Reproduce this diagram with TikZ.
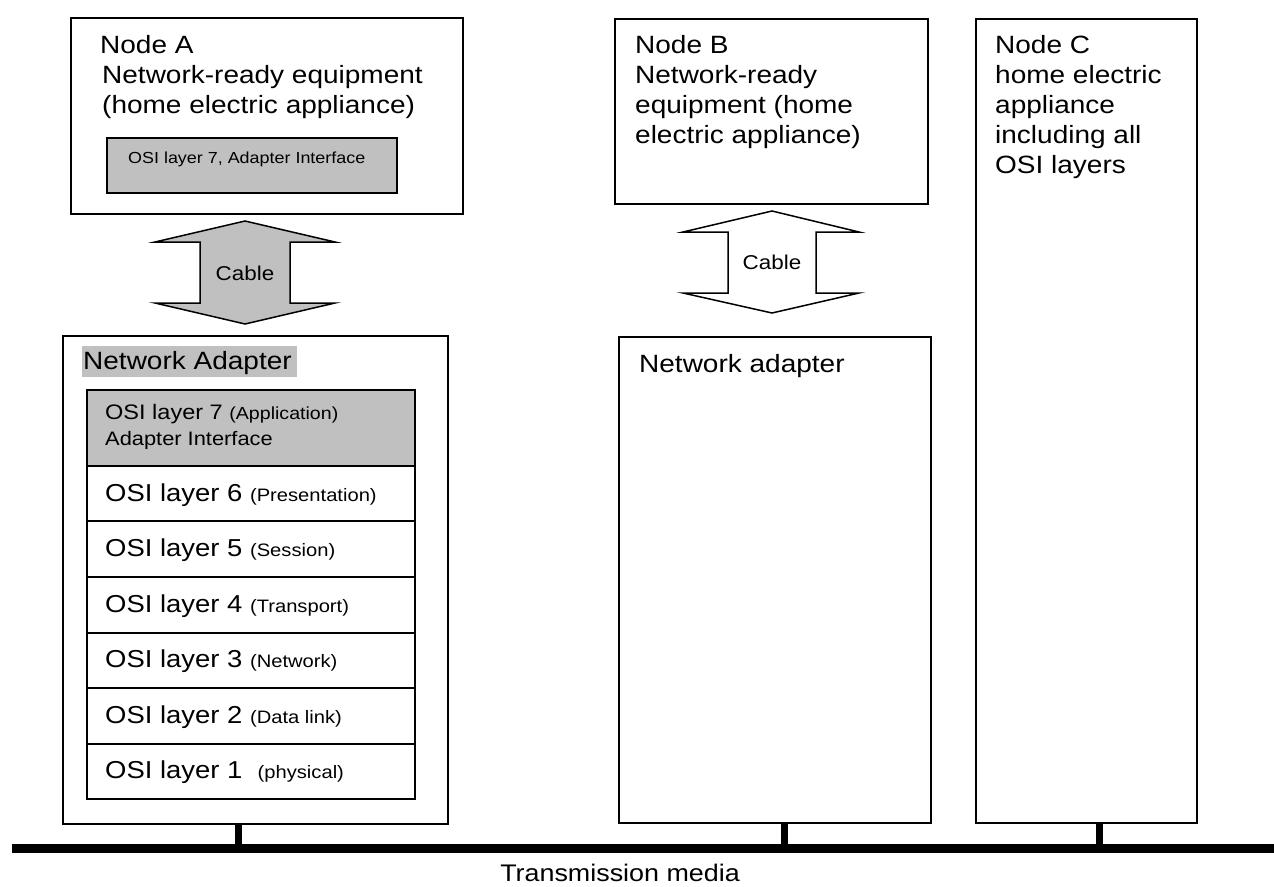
\documentclass[tikz,border=0pt]{standalone}
\usepackage{fontspec}
\setmainfont{Liberation Sans}[FakeStretch=1.12]
\newcommand\fsz[2]{\fontsize{#1}{#2}\selectfont}
\definecolor{lgray}{HTML}{C0C0C0}
\begin{document}
\begin{tikzpicture}[x=1pt,y=-1pt,
  box/.style={draw, line width=1.5pt, anchor=north west, inner sep=0pt},
  rowbox/.style={draw, line width=2pt, anchor=north west, inner sep=0pt, minimum width=328},
  big/.style={font=\fsz{25}{30}, inner sep=0pt, align=left},
  lbl/.style={inner sep=0pt, anchor=base west},
  cable/.style={draw, line width=1.5pt, line join=miter},
  stub/.style={line width=7pt},
  bus/.style={line width=9pt}]
\useasboundingbox (0,0) rectangle (1274,886);

% ---- Node A
\node[box, minimum width=392, minimum height=196] (nodeA) at (70,17) {};
\node[big, anchor=north west] (tA) at (100,35) {Node A\\[0pt]\hspace*{2pt}Network-ready equipment\\[0pt]\hspace*{2pt}(home electric appliance)};
\node[box, fill=lgray, minimum width=290, minimum height=55] (ifA) at (106,137) {};
\node[lbl, font=\fsz{16}{19}] (ifAt) at (128,163) {OSI layer 7, Adapter Interface};

% ---- Cable A
\draw[cable, fill=lgray] (245,221) -- (335,242) -- (290,242) -- (290,303) -- (335,303) -- (245,324) -- (155,303) -- (200,303) -- (200,242) -- (155,242) -- cycle;
\node[font=\fsz{20}{24}, inner sep=0pt] (cabA) at (245,273) {Cable};

% ---- Network Adapter A
\node[box, minimum width=385, minimum height=488] (adA) at (62,335) {};
\node[fill=lgray, anchor=north west, inner sep=0pt, minimum width=215, minimum height=31] (naHl) at (82,346) {};
\node[lbl, font=\fsz{25}{30}] (naT) at (83,369) {Network Adapter};

\node[rowbox, fill=lgray, minimum height=76] (r7) at (86,389) {};
\node[rowbox, minimum height=55] (r6) at (86,465) {};
\node[rowbox, minimum height=56] (r5) at (86,520) {};
\node[rowbox, minimum height=56] (r4) at (86,576) {};
\node[rowbox, minimum height=55] (r3) at (86,632) {};
\node[rowbox, minimum height=56] (r2) at (86,687) {};
\node[rowbox, minimum height=55] (r1) at (86,743) {};

\node[lbl] (t7a) at (105,419) {\fsz{21}{25}OSI layer 7 \fsz{17.5}{21}(Application)};
\node[lbl, font=\fsz{19.5}{23}] (t7b) at (105,445) {Adapter Interface};
\node[lbl] (t6) at (105,501) {\fsz{24.5}{29}OSI layer 6 \fsz{18}{21}(Presentation)};
\node[lbl] (t5) at (105,556) {\fsz{24.5}{29}OSI layer 5 \fsz{18}{21}(Session)};
\node[lbl] (t4) at (105,612) {\fsz{24.5}{29}OSI layer 4 \fsz{18}{21}(Transport)};
\node[lbl] (t3) at (105,667) {\fsz{24.5}{29}OSI layer 3 \fsz{18}{21}(Network)};
\node[lbl] (t2) at (105,723) {\fsz{24.5}{29}OSI layer 2 \fsz{18}{21}(Data link)};
\node[lbl] (t1) at (105,778) {\fsz{24.5}{29}OSI layer 1 \ \fsz{18}{21}(physical)};

% ---- Node B
\node[box, minimum width=313, minimum height=185] (nodeB) at (614,18) {};
\node[big, anchor=north west] (tB) at (635,35) {Node B\\Network-ready\\equipment (home\\electric appliance)};

% ---- Cable B
\draw[cable, fill=white] (772,211) -- (859,232) -- (816,232) -- (816,293) -- (859,293) -- (772,313) -- (683,293) -- (728,293) -- (728,232) -- (683,232) -- cycle;
\node[font=\fsz{20}{24}, inner sep=0pt] (cabB) at (772,262) {Cable};

% ---- Network adapter B
\node[box, minimum width=312, minimum height=486] (adB) at (618,336) {};
\node[lbl, font=\fsz{25}{30}] (adBt) at (639,372) {Network adapter};

% ---- Node C
\node[box, minimum width=221, minimum height=804] (nodeC) at (975,18) {};
\node[big, anchor=north west] (tC) at (995,35) {Node C\\home electric\\appliance\\including all\\OSI layers};

% ---- Transmission media
\coordinate (busL) at (12,848.5);
\coordinate (busR) at (1274,848.5);
\draw[bus] (busL) -- (busR);
\coordinate (sA) at (238,848);
\coordinate (sB) at (784,848);
\coordinate (sC) at (1099,848);
\draw[stub] (sA) -- (sA |- adA.south);
\draw[stub] (sB) -- (sB |- adB.south);
\draw[stub] (sC) -- (sC |- nodeC.south);
\node[lbl, font=\fsz{24}{29}, anchor=base] (tm) at (620,881) {Transmission media};
\end{tikzpicture}
\end{document}
